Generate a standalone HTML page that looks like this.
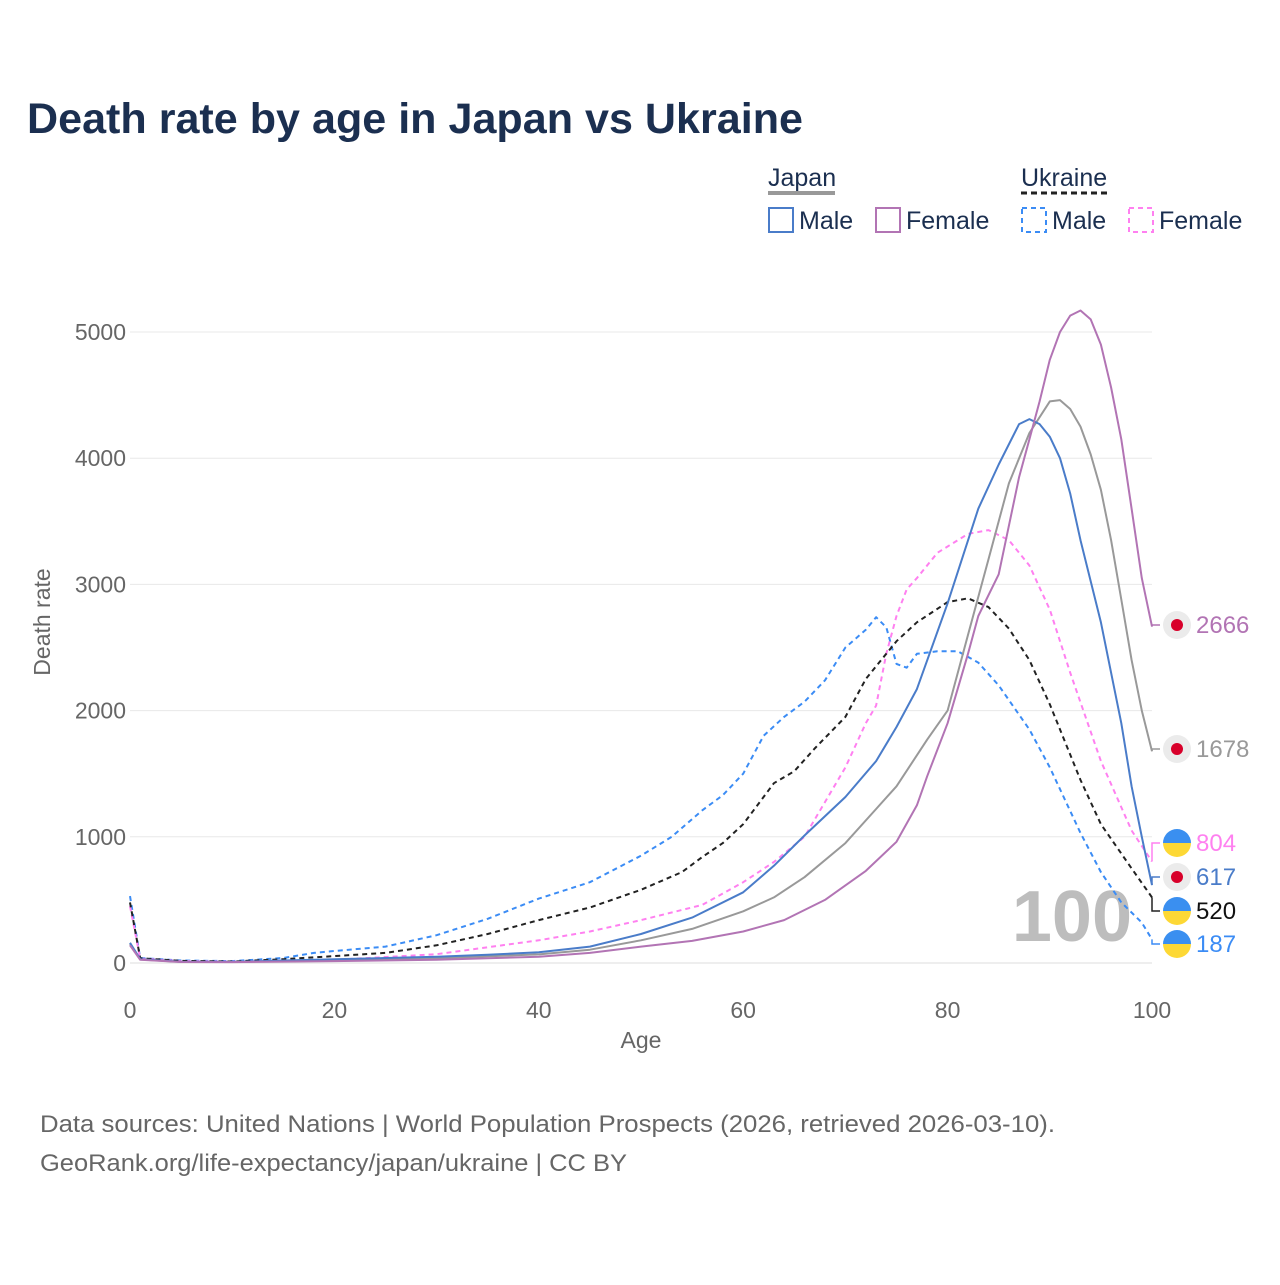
<!DOCTYPE html>
<html><head><meta charset="utf-8">
<style>
body{margin:0;background:#fff;}
svg text{font-family:"Liberation Sans",sans-serif;}
</style></head>
<body>
<svg id="chart" width="1280" height="1280" viewBox="0 0 1280 1280" xmlns="http://www.w3.org/2000/svg">
<rect width="1280" height="1280" fill="#fff"/>
<text x="27" y="133" font-size="43" font-weight="bold" fill="#1b2f50" textLength="776" lengthAdjust="spacingAndGlyphs">Death rate by age in Japan vs Ukraine</text>
<g font-size="25" fill="#1b2f50">
<text x="768" y="186" fill="#1b2f50">Japan</text>
<rect x="768" y="191" width="67" height="4" fill="#999"/>
<text x="1021" y="186" fill="#1b2f50">Ukraine</text>
<line x1="1021" y1="193" x2="1111" y2="193" stroke="#222" stroke-width="3" stroke-dasharray="6,4"/>
<g><rect x="769" y="208" width="24" height="24" fill="none" stroke="#4a7cc9" stroke-width="2"/><text x="799" y="229">Male</text></g>
<g><rect x="876" y="208" width="24" height="24" fill="none" stroke="#b274b4" stroke-width="2"/><text x="906" y="229">Female</text></g>
<g><rect x="1022" y="208" width="24" height="24" fill="none" stroke="#3b8cf5" stroke-width="2" stroke-dasharray="5,4"/><text x="1052" y="229">Male</text></g>
<g><rect x="1129" y="208" width="24" height="24" fill="none" stroke="#ff80f0" stroke-width="2" stroke-dasharray="5,4"/><text x="1159" y="229">Female</text></g>
</g>
<g id="grid"></g>
<g id="yticks"></g>
<g id="xticks"></g>
<text transform="translate(50,622) rotate(-90)" text-anchor="middle" font-size="23" fill="#666">Death rate</text>
<text x="641" y="1048" text-anchor="middle" font-size="23" fill="#666">Age</text>
<text x="1132" y="941" text-anchor="end" font-size="72" font-weight="bold" fill="#bdbdbd">100</text>
<g id="lines"></g>
<g id="labels"></g>
<text x="40" y="1132" font-size="24" fill="#666" textLength="1015" lengthAdjust="spacingAndGlyphs">Data sources: United Nations | World Population Prospects (2026, retrieved 2026-03-10).</text>
<text x="40" y="1171" font-size="24" fill="#666" textLength="587" lengthAdjust="spacingAndGlyphs">GeoRank.org/life-expectancy/japan/ukraine | CC BY</text>
</svg>
<script>
const yTicks=[0,1000,2000,3000,4000,5000];
const xTicks=[0,20,40,60,80,100];
const jmAges=[0,1,5,10,15,20,25,30,35,40,45,50,55,60,63,66,70,73,75,77,80,83,85,87,88,89,90,91,92,93,95,97,98,99,100];
const jmVals=[160,30,10,8,20,30,40,50,65,85,130,230,360,560,770,1010,1315,1600,1870,2170,2850,3600,3950,4270,4310,4270,4170,4000,3720,3350,2700,1900,1400,1000,617];
const jfAges=[0,1,5,10,20,30,40,45,50,55,60,64,68,72,75,77,78,80,82,83,85,87,88,89,90,91,92,93,94,95,96,97,98,99,100];
const jfVals=[140,25,8,7,15,25,50,80,130,175,250,340,500,730,960,1250,1480,1900,2450,2750,3080,3850,4150,4450,4780,5000,5130,5170,5100,4900,4560,4150,3600,3050,2666];
const jbAges=[0,1,5,10,20,30,40,45,50,55,60,63,66,70,73,75,78,80,82,84,86,88,90,91,92,93,94,95,96,97,98,99,100];
const jbVals=[150,28,9,8,22,38,68,105,180,270,410,520,680,950,1220,1400,1770,2000,2600,3200,3800,4200,4450,4460,4390,4250,4030,3750,3350,2880,2400,2000,1678];
const umAges=[0,1,5,10,15,18,20,25,30,35,40,45,50,53,56,58,60,62,64,66,68,70,72,73,74,75,76,77,79,81,83,85,88,90,93,95,97,99,100];
const umVals=[530,40,20,15,40,80,95,130,220,350,510,640,850,1000,1210,1330,1500,1800,1950,2070,2240,2500,2640,2740,2660,2370,2340,2450,2470,2470,2380,2200,1850,1550,1030,720,480,320,187];
const ufAges=[0,1,5,10,20,30,40,45,50,56,60,63,66,70,72,73,74,75,76,77,79,82,84,86,88,90,92,95,98,100];
const ufVals=[450,35,15,10,25,70,180,250,340,460,640,800,1000,1550,1900,2040,2450,2750,2960,3050,3250,3400,3430,3350,3150,2800,2300,1600,1050,804];
const ubAges=[0,1,5,10,15,20,25,30,35,40,45,50,54,56,58,60,63,65,67,70,72,75,77,80,82,84,86,88,90,93,95,98,100];
const ubVals=[480,38,17,12,30,55,80,140,230,340,440,580,720,840,950,1100,1425,1520,1700,1950,2250,2550,2700,2860,2890,2820,2650,2400,2050,1450,1100,750,520];

const X=a=>130+a*10.22;
const Y=v=>963-v*0.1262;
const NS="http://www.w3.org/2000/svg";
function mk(tag,parent,attrs){const e=document.createElementNS(NS,tag);for(const k in attrs)e.setAttribute(k,attrs[k]);parent.appendChild(e);return e;}
const grid=document.getElementById('grid'),yt=document.getElementById('yticks'),xt=document.getElementById('xticks');
yTicks.forEach(v=>{
  const l=mk('line',grid,{x1:130,x2:1152,y1:Y(v),y2:Y(v),stroke:v===0?'#ddd':'#e8e8e8','stroke-width':1});
  
  
  const t=mk('text',yt,{x:126,y:Y(v)+8,'text-anchor':'end','font-size':23,fill:'#666'});
  t.textContent=v;
  
  
});
xTicks.forEach(v=>{
  const t=mk('text',xt,{x:X(v),y:1018,'text-anchor':'middle','font-size':23,fill:'#666'});
  t.textContent=v;
  
  
});
const series=[
 {n:'ukraine-male-line',a:umAges,v:umVals,c:'#3b8cf5',d:'5,4',ly:944,jp:false},
 {n:'ukraine-female-line',a:ufAges,v:ufVals,c:'#ff80f0',d:'5,4',ly:843,jp:false},
 {n:'ukraine-both-line',a:ubAges,v:ubVals,c:'#222',d:'5,4',ly:911,jp:false},
 {n:'japan-both-line',a:jbAges,v:jbVals,c:'#999',d:'',ly:749,jp:true},
 {n:'japan-male-line',a:jmAges,v:jmVals,c:'#4a7cc9',d:'',ly:877,jp:true},
 {n:'japan-female-line',a:jfAges,v:jfVals,c:'#b274b4',d:'',ly:625,jp:true}
];
const lines=document.getElementById('lines'),labels=document.getElementById('labels');
series.forEach(s=>{
  const d=s.a.map((a,i)=>(i?'L':'M')+X(a).toFixed(1)+','+Y(s.v[i]).toFixed(1)).join('');
  const p=mk('path',lines,{d:d,fill:'none',stroke:s.c,'stroke-width':2,'stroke-dasharray':s.d,'stroke-linejoin':'round'});
  
  
  const last=s.v[s.v.length-1];
  const ey=Y(last);
  const c=mk('path',labels,{d:'M1152,'+ey.toFixed(1)+'V'+s.ly+'H1160',fill:'none',stroke:s.c,'stroke-width':1.5});
  
  
  const g=mk('g',labels,{});
  
  
  if(s.jp){
    mk('circle',g,{cx:1177,cy:s.ly,r:14,fill:'#ebebeb'});
    mk('circle',g,{cx:1177,cy:s.ly,r:6,fill:'#d8002a'});
  }else{
    mk('path',g,{d:'M1163,'+s.ly+'a14,14 0 0 1 28,0z',fill:'#3a8ff0'});
    mk('path',g,{d:'M1163,'+s.ly+'a14,14 0 0 0 28,0z',fill:'#fdd835'});
  }
  const t=mk('text',g,{x:1196,y:s.ly+8,'font-size':24,fill:s.c==='#222'?'#111':s.c});
  t.textContent=last;
});
</script>
</body></html>
